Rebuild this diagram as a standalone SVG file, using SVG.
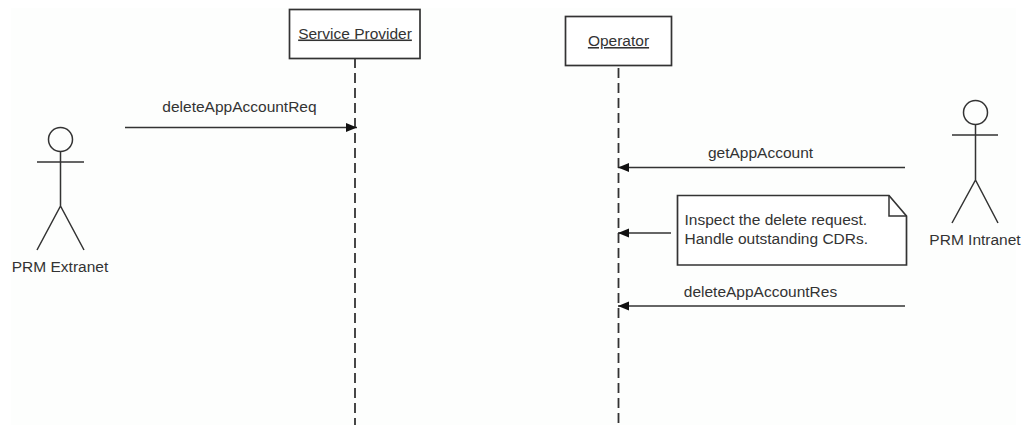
<svg xmlns="http://www.w3.org/2000/svg" width="1027" height="425" viewBox="0 0 1027 425">
<style>
text{font-family:"Liberation Sans",Arial,sans-serif;font-size:15.5px;fill:#333}
.box{fill:#fff;stroke:#333;stroke-width:1.7}
.line{fill:none;stroke:#333;stroke-width:1.5}
.life{fill:none;stroke:#333;stroke-width:1.8;stroke-dasharray:10 5}
.msg{fill:none;stroke:#333;stroke-width:1.6;marker-end:url(#head)}
.m{text-anchor:middle}
.u{text-decoration:underline}
</style>
<defs>
<marker id="head" markerUnits="userSpaceOnUse" markerWidth="12" markerHeight="10" refX="11" refY="4.500" orient="auto"><path d="M0 0L11 4.500L0 9Z" fill="#111"/></marker>
</defs>
<rect width="1027" height="425" fill="#fff"/>
<rect x="11" y="8" width="1005" height="417" fill="#fdfefd"/>
<g id="connectors">
<line class="life" x1="355" y1="58" x2="355" y2="425"/>
<line class="life" x1="618.5" y1="68" x2="618.5" y2="425"/>
<line class="msg" x1="125" y1="127.5" x2="357" y2="127.5"/>
<line class="msg" x1="905" y1="167.5" x2="618" y2="167.5"/>
<line class="msg" x1="671" y1="233" x2="618" y2="233"/>
<line class="msg" x1="905" y1="306" x2="618" y2="306"/>
<text class="m" x="239.500" y="112">deleteAppAccountReq</text>
<text class="m" x="760.500" y="158">getAppAccount</text>
<text class="m" x="760.500" y="297">deleteAppAccountRes</text>
</g>
<g id="service-provider">
<rect class="box" x="289.500" y="9.500" width="130.500" height="49"/>
<text class="m u" x="355" y="38.500">Service Provider</text>
</g>
<g id="operator">
<rect class="box" x="565.500" y="16.500" width="106" height="49"/>
<text class="m u" x="618.500" y="46">Operator</text>
</g>
<g id="prm-extranet">
<circle class="line" cx="60.500" cy="139.500" r="12"/>
<path class="line" d="M60.500 151.500V206M37 162H84M37 250L60.500 206L84 250"/>
<text class="m" x="60" y="271.500">PRM Extranet</text>
</g>
<g id="prm-intranet">
<circle class="line" cx="975.500" cy="112.500" r="12"/>
<path class="line" d="M975.500 124.500V180M952 135H998M952 223L975.500 180L998 223"/>
<text class="m" x="975" y="244.500">PRM Intranet</text>
</g>
<g id="note">
<path class="box" d="M677.500 195.500H889L906.500 216V265H677.500Z"/>
<path class="line" d="M889 195.500V216H906.500"/>
<text x="684.500" y="225">Inspect the delete request.</text>
<text x="684.500" y="244">Handle outstanding CDRs.</text>
</g>
</svg>
